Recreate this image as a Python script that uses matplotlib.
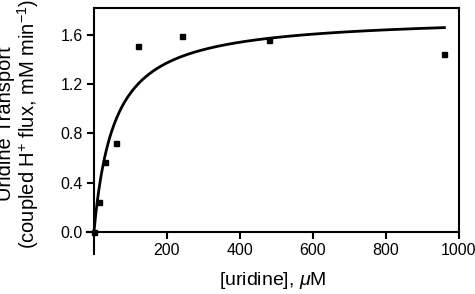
import numpy as np
import matplotlib
matplotlib.use("Agg")
import matplotlib.pyplot as plt

plt.rcParams['font.family'] = ['Liberation Sans', 'DejaVu Sans']
plt.rcParams['mathtext.fontset'] = 'custom'
plt.rcParams['mathtext.rm'] = 'Liberation Sans'
plt.rcParams['mathtext.it'] = 'Liberation Sans:italic'

# measured points: [uridine] (uM) vs transport
uridine = [0, 15, 30, 60, 120, 240, 480, 960]
transport = [0.0, 0.24, 0.57, 0.72, 1.51, 1.595, 1.557, 1.448]

# Michaelis-Menten fit parameters
vmax = 1.757
km = 55.8
fit_x = np.linspace(0, 960, 400)
fit_y = vmax * fit_x / (km + fit_x)

xticks = [200, 400, 600, 800, 1000]
yticks = [0.0, 0.4, 0.8, 1.2, 1.6]

fig = plt.figure(figsize=(4.75, 2.94), dpi=100)
ax = fig.add_axes([87/475, 1 - 254/294, (459-87)/475, (254-8)/294])

ax.plot(fit_x, fit_y, color='black', lw=2, zorder=3)
ax.plot(uridine, transport, 's', color='black', ms=3.6, zorder=4, clip_on=False)

ax.set_xlim(-19, 1000)
ax.set_ylim(-0.18, 1.82)

ax.spines['left'].set_position(('data', 0))
ax.spines['bottom'].set_position(('data', 0))
ax.spines['top'].set_bounds(0, 1000)
ax.spines['right'].set_bounds(0, 1.82)
for s in ax.spines.values():
    s.set_linewidth(1.5)

ax.set_xticks(xticks)
ax.set_xticklabels([str(t) for t in xticks])
ax.set_yticks(yticks)
ax.set_yticklabels([f'{t:.1f}' for t in yticks])
ax.tick_params(direction='out', length=5, width=1.5, labelsize=11.5, pad=3)

ax.set_xlabel(r'[uridine], $\mathit{\mu}$M', fontsize=14)
ax.xaxis.set_label_coords(0.5, -0.065)
ax.set_ylabel('Uridine Transport\n(coupled H$^{+}$ flux, mM min$^{-1}$)',
              fontsize=14.5, linespacing=1.0)
ax.yaxis.set_label_coords(-0.124, 0.53)

fig.savefig('out.png', dpi=100)
